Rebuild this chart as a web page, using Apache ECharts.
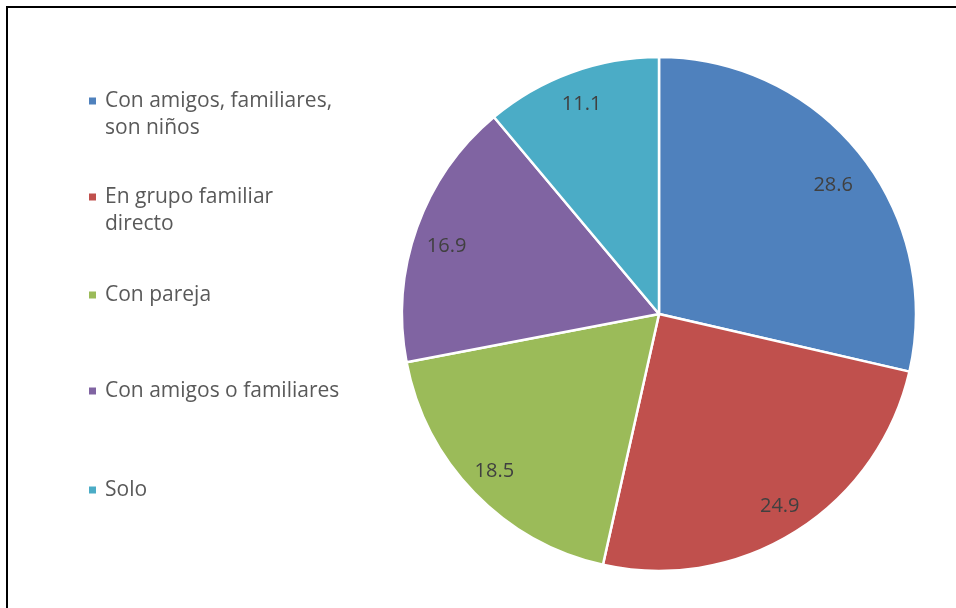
<!DOCTYPE html>
<html>
<head>
<meta charset="utf-8">
<script src="https://cdn.jsdelivr.net/npm/echarts@6/dist/echarts.min.js"></script>
<style>
  html, body { margin: 0; padding: 0; background: #fff; }
  #main { width: 956px; height: 608px; }
</style>
</head>
<body>
<div id="main"></div>
<script>
const categories = [
  "Con amigos, familiares, son niños",
  "En grupo familiar directo",
  "Con pareja",
  "Con amigos o familiares",
  "Solo"
];
const legendLines = [
  "Con amigos, familiares,\nson niños",
  "En grupo familiar\ndirecto",
  "Con pareja",
  "Con amigos o familiares",
  "Solo"
];
const values = [28.6, 24.9, 18.5, 16.9, 11.1];
const colors = ["#4F81BD", "#C0504D", "#9BBB59", "#8064A2", "#4BACC6"];

const font = "'Open Sans', 'Noto Sans', sans-serif";
const lineH = 27;
// first-line centre of each legend entry
const legendY = [100, 196, 295, 391, 490];
// small nudges so labels sit where Excel put them
const labelNudge = [[-3, 12], [0, 1], [-2, 0], [1, 8], [0, 3]];

const chart = echarts.init(document.getElementById("main"));

const legends = categories.map((name, i) => {
  const twoLines = legendLines[i].indexOf("\n") >= 0;
  return {
    orient: "vertical",
    left: 87,
    top: legendY[i] - lineH / 2,
    padding: 0,
    itemGap: 0,
    itemWidth: 9,
    itemHeight: twoLines ? lineH * 2 : 9,
    selectedMode: false,
    data: [{
      name: name,
      // square sits on the first text line
      icon: twoLines ? "path://M0,0M0,54M0,9h9v9h-9z" : "rect"
    }],
    formatter: () => legendLines[i],
    textStyle: {
      fontFamily: font,
      fontSize: 21,
      color: "#595959",
      lineHeight: lineH,
      padding: [0, 0, 0, 3]
    }
  };
});

const pieData = categories.map((name, i) => ({
  name: name,
  value: values[i],
  itemStyle: { color: colors[i] }
}));

chart.setOption({
  animation: false,
  color: colors,
  legend: legends,
  graphic: [{
    type: "rect",
    shape: { x: 7, y: 7, width: 980, height: 640 },
    style: { fill: "none", stroke: "#000", lineWidth: 2 },
    silent: true
  }],
  series: [
    {
      type: "pie",
      center: [659, 314],
      radius: [0, 257],
      startAngle: 90,
      clockwise: true,
      label: { show: false },
      labelLine: { show: false },
      itemStyle: { borderColor: "#fff", borderWidth: 2.5 },
      emphasis: { disabled: true },
      data: pieData
    },
    {
      // transparent ring only used to place the value labels near the rim
      type: "pie",
      center: [659, 314],
      radius: [190, 257],
      startAngle: 90,
      clockwise: true,
      silent: true,
      legendHoverLink: false,
      itemStyle: { color: "rgba(0,0,0,0)" },
      emphasis: { disabled: true },
      label: {
        show: true,
        position: "inside",
        formatter: p => p.value.toFixed(1),
        fontFamily: font,
        fontSize: 20,
        color: "#404040"
      },
      labelLine: { show: false },
      data: categories.map((name, i) => ({
        name: name,
        value: values[i],
        label: { offset: labelNudge[i] }
      }))
    }
  ]
});
</script>
</body>
</html>
